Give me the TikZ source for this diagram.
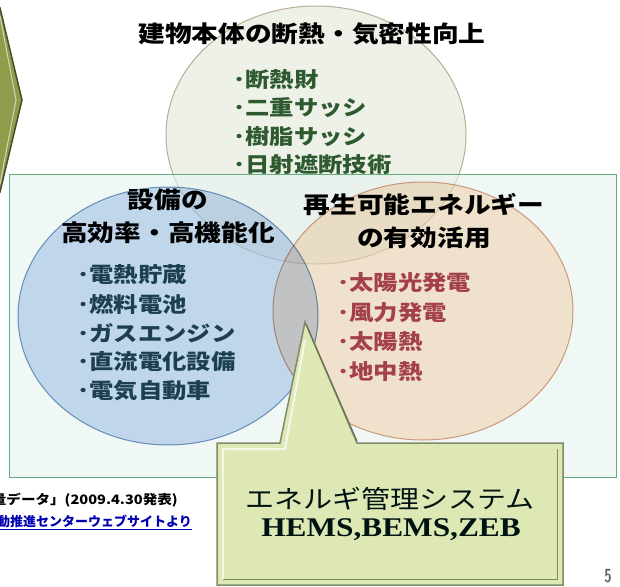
\documentclass[tikz,border=0pt]{standalone}
\usepackage{fontspec}
\setmainfont{Liberation Serif}
\newfontfamily\jp{Noto Sans CJK JP}
\usepackage{tikz}
\usetikzlibrary{shapes.geometric}

\definecolor{boxline}{HTML}{62AE7C}
\definecolor{boxfill}{HTML}{E6F3EF}
\definecolor{roofill}{HTML}{EEF1E8}
\definecolor{roofline}{HTML}{B9AE92}
\definecolor{equipfill}{HTML}{CDDDF5}
\definecolor{equipline}{HTML}{7E9EC4}
\definecolor{renewfill}{HTML}{FFE8D5}
\definecolor{renewline}{HTML}{DBA58E}
\definecolor{roofitem}{HTML}{2E5A30}
\definecolor{equipitem}{HTML}{1D4050}
\definecolor{renewitem}{HTML}{A3404C}
\definecolor{emsfill}{HTML}{DEE8B4}
\definecolor{emsline}{HTML}{7F8A66}
\definecolor{tabfill}{HTML}{8E9C4C}
\definecolor{tabline}{HTML}{44502A}

\begin{document}
\begin{tikzpicture}[x=1pt,y=-1pt]
  \tikzstyle{disc}=[ellipse,minimum width=300pt,minimum height=258pt,line width=1pt]
  \tikzstyle{head}=[font=\jp\bfseries\fontsize{23}{33}\selectfont,xscale=1.16,align=center,inner sep=0pt]
  \tikzstyle{item}=[font=\jp\bfseries\fontsize{21}{25}\selectfont,xscale=1.16,anchor=west,inner sep=0pt]
  \tikzstyle{note}=[font=\jp\bfseries\fontsize{13}{15}\selectfont,anchor=east,inner sep=0pt]

  \useasboundingbox (0,0) rectangle (620,586);
  \clip (0,0) rectangle (620,586);

  % tab cut off at the left edge
  \filldraw[fill=tabfill,draw=tabline,line width=1.5pt] (-10,8) -- (0,8) -- (22,100) -- (0,192) -- (-10,192) -- cycle;
  \draw[color=tabfill!40,line width=1pt] (0,16) -- (16,100) -- (0,184);

  \node[disc,fill=roofill,draw=roofline] (roof) at (316,135) {};
  \filldraw[fill=boxfill,fill opacity=0.6,draw=boxline,line width=1pt] (9,174) rectangle (616,477);

  \begin{scope}[blend mode=multiply]
    \node[disc,fill=equipfill,draw=equipline] (equip) at (168,316) {};
    \node[disc,fill=renewfill,draw=renewline] (renew) at (423,311) {};
  \end{scope}

  \node[head] (rooftitle) at (312,34) {建物本体の断熱・気密性向上};
  \node[head] (equiptitle) at (168,216) {設備の\\高効率・高機能化};
  \node[head] (renewtitle) at (424,221) {再生可能エネルギー\\の有効活用};

  \foreach \t/\y [count=\i] in {断熱財/80,二重サッシ/108,樹脂サッシ/137,日射遮断技術/165}
    \node[item,text=roofitem] (roof\i) at (233,\y) {･\t};
  \foreach \t/\y [count=\i] in {電熱貯蔵/275,燃料電池/304,ガスエンジン/333,直流電化設備/362,電気自動車/391}
    \node[item,text=equipitem] (equip\i) at (77,\y) {･\t};
  \foreach \t/\y [count=\i] in {太陽光発電/283,風力発電/313,太陽熱/342,地中熱/372}
    \node[item,text=renewitem] (renew\i) at (337,\y) {･\t};

  % callout pointing into the middle
  \filldraw[fill=emsfill,draw=emsline,line width=1.5pt] (217,443) -- (280,443) -- (305,322) -- (357,443) -- (563,443) -- (563,585) -- (217,585) -- cycle;
  \draw[color=white!70!emsfill,line width=2pt] (223,580) -- (223,449) -- (285,449) -- (305,340);
  \draw[color=emsline!80!black,line width=1pt] (306,324) -- (357,441);
  \draw[color=emsline,line width=1pt] (557,449) -- (557,579) -- (223,579);

  \node[font=\jp\fontsize{25}{30}\selectfont,xscale=1.16,text=black!85!teal,inner sep=0pt] (ems) at (390,499) {エネルギ管理システム};
  \node[font=\bfseries\fontsize{27}{30}\selectfont,xscale=1.16,text=black!85!teal,inner sep=0pt] (hems) at (391,530) {HEMS,BEMS,ZEB};

  \node[note,xscale=1.12] (note1) at (178,500) {量データ」(2009.4.30発表)};
  \node[note,text=blue!70!black] (note2) at (192,522) {\underline{動推進センターウェブサイトより}};
  \node[font=\sffamily\bfseries\fontsize{19}{20}\selectfont,xscale=0.7,text=black!60] (page) at (608,576) {5};
\end{tikzpicture}
\end{document}
